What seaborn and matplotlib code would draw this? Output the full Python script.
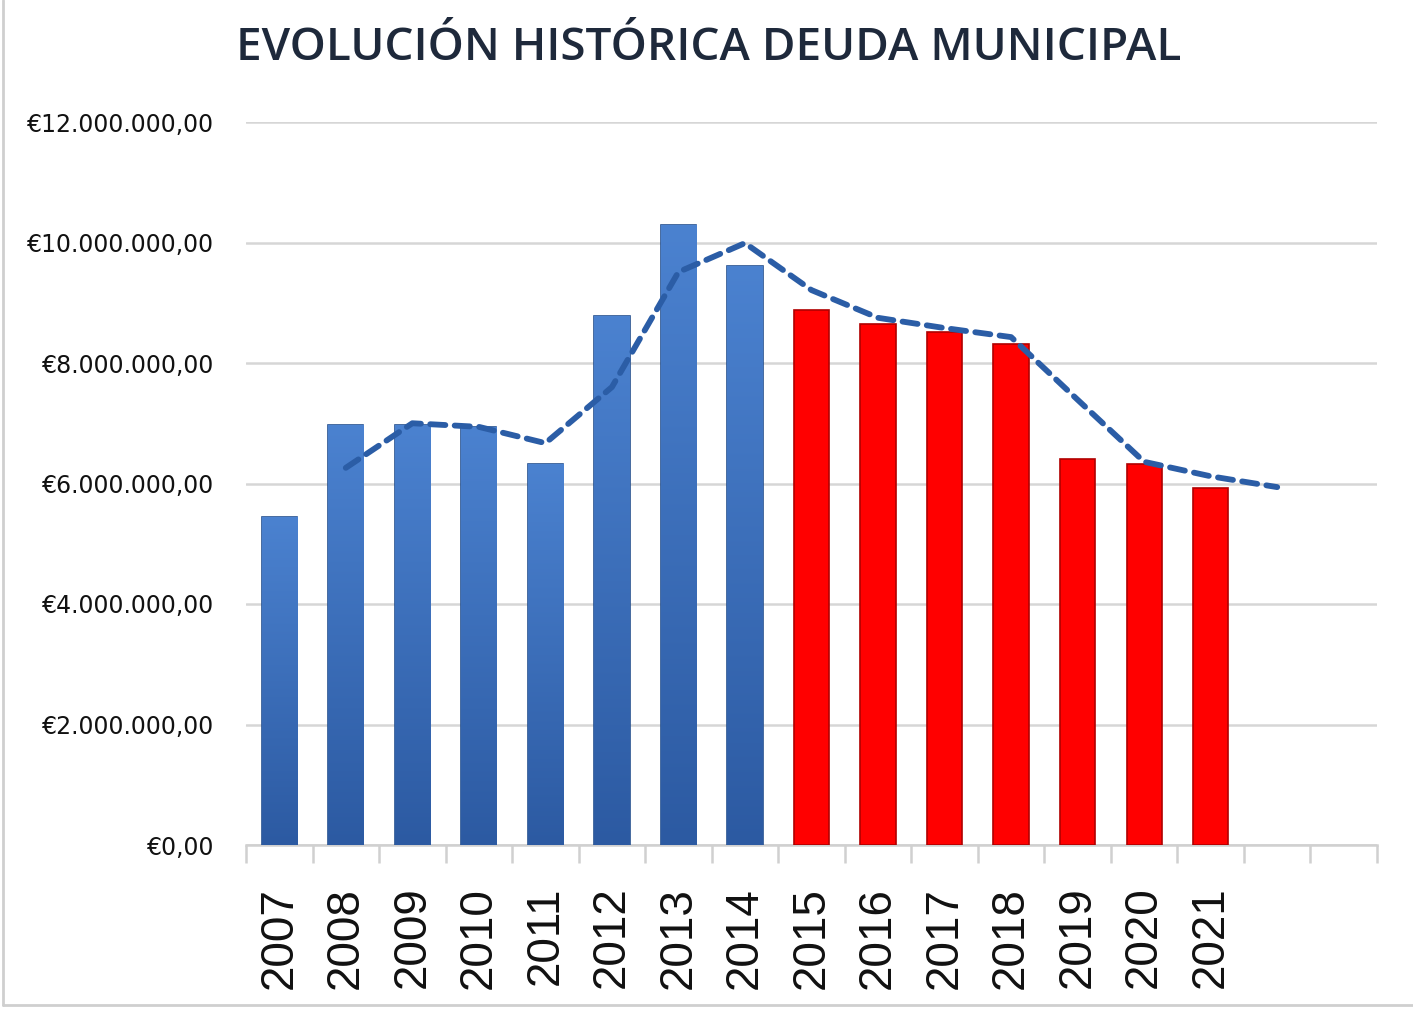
import numpy as np
import pandas as pd
import matplotlib
matplotlib.use("Agg")
import matplotlib.pyplot as plt
import seaborn as sns
from matplotlib.colors import LinearSegmentedColormap
from matplotlib.ticker import FuncFormatter, FixedLocator

# Data (euros)
years = ['2007', '2008', '2009', '2010', '2011', '2012', '2013', '2014',
         '2015', '2016', '2017', '2018', '2019', '2020', '2021']
deuda = [5.44e6, 6.97e6, 6.97e6, 6.94e6, 6.32e6, 8.78e6, 10.29e6, 9.61e6,
         8.88e6, 8.65e6, 8.51e6, 8.32e6, 6.41e6, 6.32e6, 5.93e6]
periodo = ['antes'] * 8 + ['despues'] * 7

# dashed trend (moving average), category slots 1..15
trend_pos = list(range(1, 16))
trend_vals = [6.26e6, 7.00e6, 6.94e6, 6.67e6, 7.60e6, 9.51e6, 9.99e6, 9.21e6,
              8.75e6, 8.58e6, 8.43e6, 7.39e6, 6.36e6, 6.12e6, 5.94e6]

n_slots = 17

sns.set_style("white")
plt.rcParams['font.family'] = ['Liberation Sans', 'DejaVu Sans']

df = pd.DataFrame({'year': years, 'deuda': deuda, 'periodo': periodo})

fig = plt.figure(figsize=(14.13, 10.14), dpi=100)
ax = fig.add_axes([246 / 1413, 1 - 845 / 1014, (1377 - 246) / 1413, (845 - 122) / 1014])

sns.barplot(data=df, x='year', y='deuda', hue='periodo',
            palette={'antes': '#3f74c4', 'despues': '#ff0000'}, saturation=1,
            dodge=False, width=0.53, legend=False, ax=ax, zorder=3)

# edges and gradient for the blue bars
grad = LinearSegmentedColormap.from_list('azul', ['#2c5aa2', '#4b82d0'])
for patch, p in zip(ax.patches, periodo):
    if p == 'antes':
        patch.set_edgecolor('#25508f')
        x0, y0 = patch.get_x(), patch.get_y()
        w, h = patch.get_width(), patch.get_height()
        im = ax.imshow(np.linspace(0, 1, 256).reshape(-1, 1), cmap=grad,
                       origin='lower', aspect='auto',
                       extent=[x0, x0 + w, y0, y0 + h], zorder=3)
        im.set_clip_path(patch)
    else:
        patch.set_edgecolor('#b00000')
    patch.set_linewidth(1.2)

ax.plot(trend_pos, trend_vals, linestyle=(0, (2.6, 1.6)), color='#2b5da6',
        linewidth=4.2, dash_capstyle='round', zorder=4)

ax.set_xlim(-0.5, n_slots - 0.5)
ax.set_ylim(0, 12e6)
ax.set_yticks(np.arange(0, 12.1e6, 2e6))
ax.yaxis.set_major_formatter(FuncFormatter(
    lambda v, _: '€' + f'{v:,.2f}'.replace(',', 'X').replace('.', ',').replace('X', '.')))
ax.grid(axis='y', color='#d6d6d6', linewidth=1.8, zorder=0)
ax.set_axisbelow(True)

for s in ['top', 'right', 'left']:
    ax.spines[s].set_visible(False)
ax.spines['bottom'].set_color('#d0d0d0')
ax.spines['bottom'].set_linewidth(1.8)

ax.set_xticks(range(len(years)))
ax.set_xticklabels(years, rotation=90, fontsize=33, color='#111111')
ax.xaxis.set_minor_locator(FixedLocator(np.arange(-0.5, n_slots, 1)))
ax.tick_params(axis='x', which='major', length=0, pad=30)
ax.tick_params(axis='x', which='minor', bottom=True, length=13, width=1.8, color='#d0d0d0')
ax.tick_params(axis='y', length=0, pad=23)
for lab in ax.get_yticklabels():
    lab.set_family(['DejaVu Sans'])
    lab.set_fontsize(17)
    lab.set_color('#111111')
ax.set_xlabel('')
ax.set_ylabel('')

fig.text(709 / 1413, 1 - 48 / 1014, 'EVOLUCIÓN HISTÓRICA DEUDA MUNICIPAL',
         ha='center', va='center', fontsize=33, fontweight='semibold',
         family=['Open Sans', 'DejaVu Sans'], color='#1e293b')

# thin frame at left and bottom of the picture
fig.add_artist(plt.Line2D([3 / 1413, 3 / 1413], [1 - 1005 / 1014, 1], color='#cfcfcf',
                          linewidth=2, transform=fig.transFigure))
fig.add_artist(plt.Line2D([3 / 1413, 1], [1 - 1005 / 1014, 1 - 1005 / 1014], color='#cfcfcf',
                          linewidth=2, transform=fig.transFigure))

fig.savefig('out.png', dpi=100)
